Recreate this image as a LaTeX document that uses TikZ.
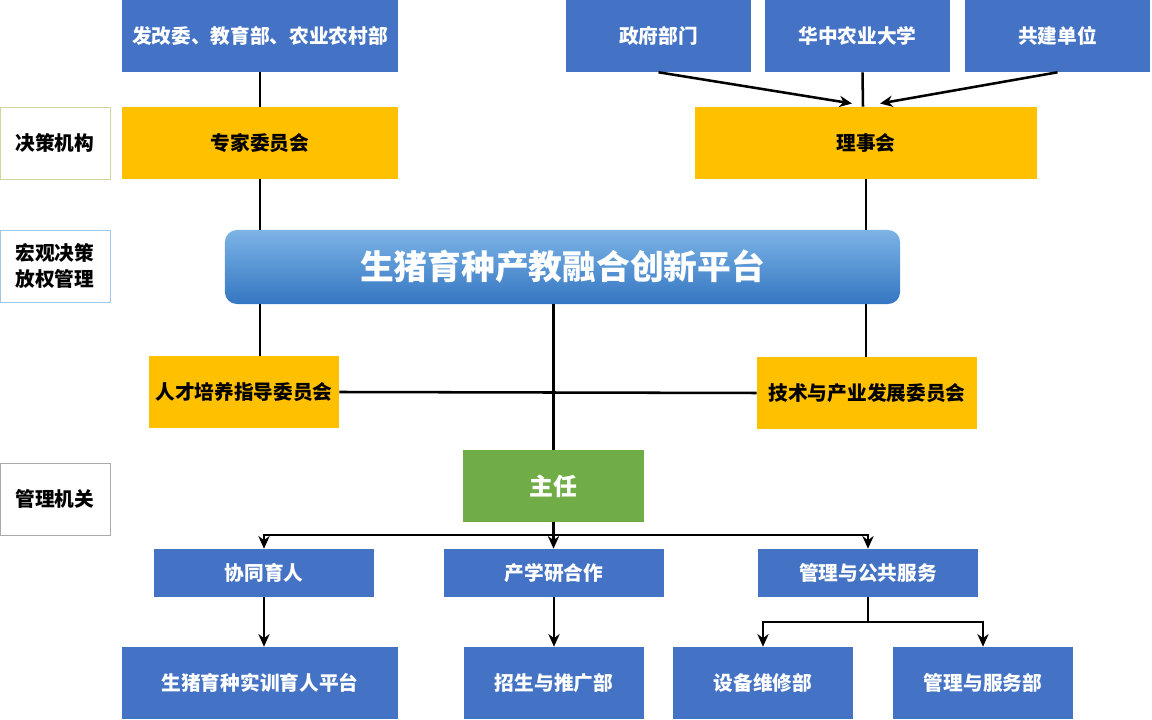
\documentclass[tikz,border=0pt]{standalone}
\usepackage{fontspec}
\setmainfont{Noto Sans CJK SC}
\usetikzlibrary{arrows.meta}
\definecolor{unitblue}{HTML}{4472C4}
\definecolor{boardyellow}{HTML}{FFC000}
\definecolor{chiefgreen}{HTML}{70AD47}
\definecolor{platformtop}{HTML}{7DB4E6}
\definecolor{platformbot}{HTML}{3476C2}
\tikzset{
  unit/.style={fill=unitblue, text=white, inner sep=0pt, minimum height=1.8cm, font=\bfseries\fontsize{14}{16}\selectfont},
  board/.style={fill=boardyellow, text=black, inner sep=0pt, minimum height=1.8cm, font=\bfseries\fontsize{14}{16}\selectfont},
  levellabel/.style={fill=white, text=black, line width=0.5pt, inner sep=0pt, minimum width=2.75cm, minimum height=1.8cm, align=center, font=\bfseries\fontsize{14}{18}\selectfont},
  link/.style={line width=1.8pt, black},
  feed/.style={link, -{Stealth[length=9pt,width=8pt]}},
  split/.style={link, {Stealth[length=9pt,width=8pt]}-{Stealth[length=9pt,width=8pt]}}
}
\begin{document}
\begin{tikzpicture}[x=0.025cm,y=-0.025cm]
\useasboundingbox (0,0) rectangle (1152,720);

\node[unit, minimum width=6.9cm] (fagai) at (260,36) {发改委、教育部、农业农村部};
\node[unit, minimum width=4.625cm] (zhengfu) at (658.5,36) {政府部门};
\node[unit, minimum width=4.625cm] (huanong) at (857.5,36) {华中农业大学};
\node[unit, minimum width=4.625cm] (gongjian) at (1057.5,36) {共建单位};

\node[levellabel, draw={rgb,255:red,215;green,210;blue,160}] (juece) at (55,143) {决策机构};
\node[board, minimum width=6.9cm] (zhuanjia) at (260,143) {专家委员会};
\node[board, minimum width=8.55cm] (lishi) at (866,143) {理事会};

\node[levellabel, draw={rgb,255:red,160;green,200;blue,230}] (hongguan) at (55,266) {宏观决策\\放权管理};
\node[top color=platformtop, bottom color=platformbot, rounded corners=0.3cm, inner sep=0pt,
      minimum width=16.875cm, minimum height=1.85cm, text=white,
      font=\bfseries\fontsize{24}{28}\selectfont] (platform) at (562.5,267) {生猪育种产教融合创新平台};

\node[board, minimum width=4.75cm] (rencai) at (244,392) {人才培养指导委员会};
\node[board, minimum width=5.5cm] (jishu) at (867,393) {技术与产业发展委员会};

\node[levellabel, draw={rgb,255:red,170;green,170;blue,170}] (jiguan) at (55,499) {管理机关};
\node[fill=chiefgreen, text=white, inner sep=0pt, minimum width=4.525cm, minimum height=1.8cm,
      font=\bfseries\fontsize{17}{20}\selectfont] (zhuren) at (553.5,486) {主任};

\node[unit, minimum width=5.5cm, minimum height=1.2cm] (xietong) at (264,573) {协同育人};
\node[unit, minimum width=5.5cm, minimum height=1.2cm] (chanxue) at (554,573) {产学研合作};
\node[unit, minimum width=5.5cm, minimum height=1.2cm] (gonggong) at (868,573) {管理与公共服务};

\node[unit, minimum width=6.9cm] (shixun) at (260,683) {生猪育种实训育人平台};
\node[unit, minimum width=4.5cm] (zhaosheng) at (554,683) {招生与推广部};
\node[unit, minimum width=4.5cm] (weixiu) at (763,683) {设备维修部};
\node[unit, minimum width=4.5cm] (fuwu) at (983,683) {管理与服务部};

\coordinate (fork) at (553,535);
\coordinate (subfork) at (868,622);

\draw[link] (fagai) -- (zhuanjia);
\draw[link] (zhuanjia.south) -- (zhuanjia.south |- platform.north);
\draw[feed] (zhengfu.south) -- ([xshift=-0.35cm,yshift=0.08cm]lishi.north);
\draw[feed] (gongjian.south) -- ([xshift=0.35cm,yshift=0.08cm]lishi.north);
\draw[link] (huanong.south) ++(5,0) -- ([xshift=-0.075cm]lishi.north);
\draw[link] (lishi.south) -- (lishi.south |- platform.north);

\draw[link] (zhuanjia.south |- platform.south) -- (zhuanjia.south |- rencai.north);
\draw[link] (lishi.south |- platform.south) -- (lishi.south |- jishu.north);
\draw[link] (zhuren.north |- platform.south) -- (zhuren.north);
\draw[link] (rencai.east) -- (jishu.west);

\draw[feed] (zhuren.south) -- (zhuren.south |- chanxue.north);
\draw[split] (xietong.north) |- (fork) -| (gonggong.north);
\draw[feed] (xietong.south) -- (xietong.south |- shixun.north);
\draw[feed] (chanxue.south) -- (zhaosheng.north);
\draw[link] (gonggong.south) -- (subfork);
\draw[split] (weixiu.north) |- (subfork) -| (fuwu.north);
\end{tikzpicture}
\end{document}
